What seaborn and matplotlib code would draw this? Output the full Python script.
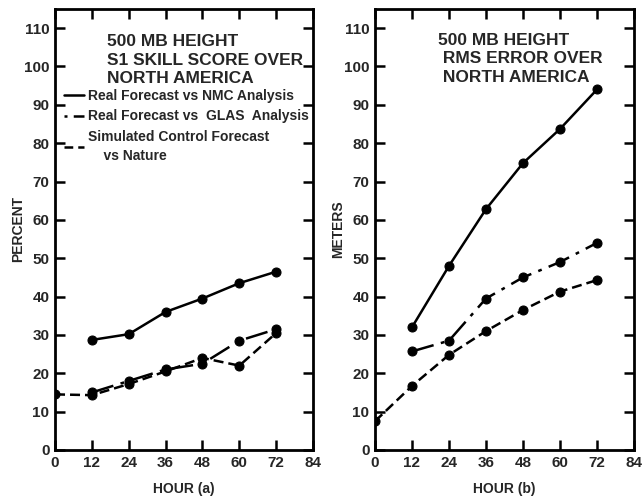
import matplotlib
matplotlib.use("Agg")
import matplotlib.pyplot as plt
import seaborn as sns
import pandas as pd

sns.set_theme(style="ticks")
plt.rcParams['font.family'] = ['Liberation Sans', 'DejaVu Sans']
plt.rcParams['font.weight'] = 'bold'

hours_real = [12, 24, 36, 48, 60, 72]
hours_sim = [0, 12, 24, 36, 48, 60, 72]

# Left panel: S1 skill score (percent)
s1_nmc = [28.7, 30.2, 36.0, 39.5, 43.5, 46.5]
s1_glas = [15.0, 18.0, 21.0, 22.5, 28.5, 31.5]
s1_sim = [14.5, 14.3, 17.2, 20.5, 24.0, 22.0, 30.5]

# Right panel: RMS error (meters)
rms_nmc = [32.0, 48.0, 62.8, 74.8, 83.7, 94.0]
rms_glas = [25.7, 28.5, 39.5, 45.0, 49.0, 54.0]
rms_sim = [7.5, 16.7, 24.8, 31.0, 36.5, 41.3, 44.3]

x_ticks = [0, 12, 24, 36, 48, 60, 72, 84]
y_ticks = [0, 10, 20, 30, 40, 50, 60, 70, 80, 90, 100, 110]

labels = ["Real Forecast vs NMC Analysis",
          "Real Forecast vs  GLAS  Analysis",
          "Simulated Control Forecast\n    vs Nature"]
styles = ["-", (0, (9, 3, 1.5, 3)), (0, (4, 2))]

fig = plt.figure(figsize=(6.42, 4.98), dpi=100)
axL = fig.add_axes([0.0857, 0.0964, 0.4019, 0.8856])
axR = fig.add_axes([0.5841, 0.0964, 0.4034, 0.8856])

def draw(ax, series):
    for (hrs, vals), lab, ls in zip(series, labels, styles):
        df = pd.DataFrame({"hour": hrs, "val": vals})
        sns.lineplot(data=df, x="hour", y="val", ax=ax, color="black",
                     linestyle=ls, linewidth=1.8, marker="o", markersize=6.5,
                     markeredgecolor="black", label=lab, legend=False)
    ax.set_xlim(0, 84)
    ax.set_ylim(0, 115)
    ax.set_xticks(x_ticks)
    ax.set_yticks(y_ticks)
    ax.tick_params(direction="in", length=7, width=1.8, top=True, right=True,
                   labelsize=11, pad=4, color="black")
    for t in ax.get_xticklabels() + ax.get_yticklabels():
        t.set_fontweight("bold")
    for sp in ax.spines.values():
        sp.set_linewidth(2)
        sp.set_color("black")
    ax.set_facecolor("white")

draw(axL, [(hours_real, s1_nmc), (hours_real, s1_glas), (hours_sim, s1_sim)])
draw(axR, [(hours_real, rms_nmc), (hours_real, rms_glas), (hours_sim, rms_sim)])

axL.set_xlabel("HOUR (a)", fontsize=10, fontweight="bold", labelpad=9)
axR.set_xlabel("HOUR (b)", fontsize=10, fontweight="bold", labelpad=9)
axL.set_ylabel("PERCENT", fontsize=10, fontweight="bold", labelpad=-1)
axR.set_ylabel("METERS", fontsize=10, fontweight="bold", labelpad=-1)

axL.text(0.2, 0.944, "500 MB HEIGHT\nS1 SKILL SCORE OVER\nNORTH AMERICA",
         transform=axL.transAxes, fontsize=12.5, fontweight="bold",
         va="top", ha="left", linespacing=1.32)
axR.text(0.243, 0.946, "500 MB HEIGHT\n RMS ERROR OVER\n NORTH AMERICA",
         transform=axR.transAxes, fontsize=12.5, fontweight="bold",
         va="top", ha="left", linespacing=1.3)

handles, labs = axL.get_legend_handles_labels()
leg = axL.legend(handles, labs, loc="upper left", bbox_to_anchor=(0.035, 0.818),
                 frameon=False, handlelength=1.45, handletextpad=0.3,
                 labelspacing=0.45, borderaxespad=0, borderpad=0,
                 prop={"weight": "bold", "size": 10})
for h in leg.legend_handles:
    h.set_marker("")
leg.legend_handles[1].set_linestyle((0, (1.2, 2.5, 10, 2)))
leg.legend_handles[2].set_linestyle((0, (3.5, 2)))
leg.get_texts()[2].set_linespacing(1.5)

fig.savefig("out.png", dpi=100, facecolor="white")
